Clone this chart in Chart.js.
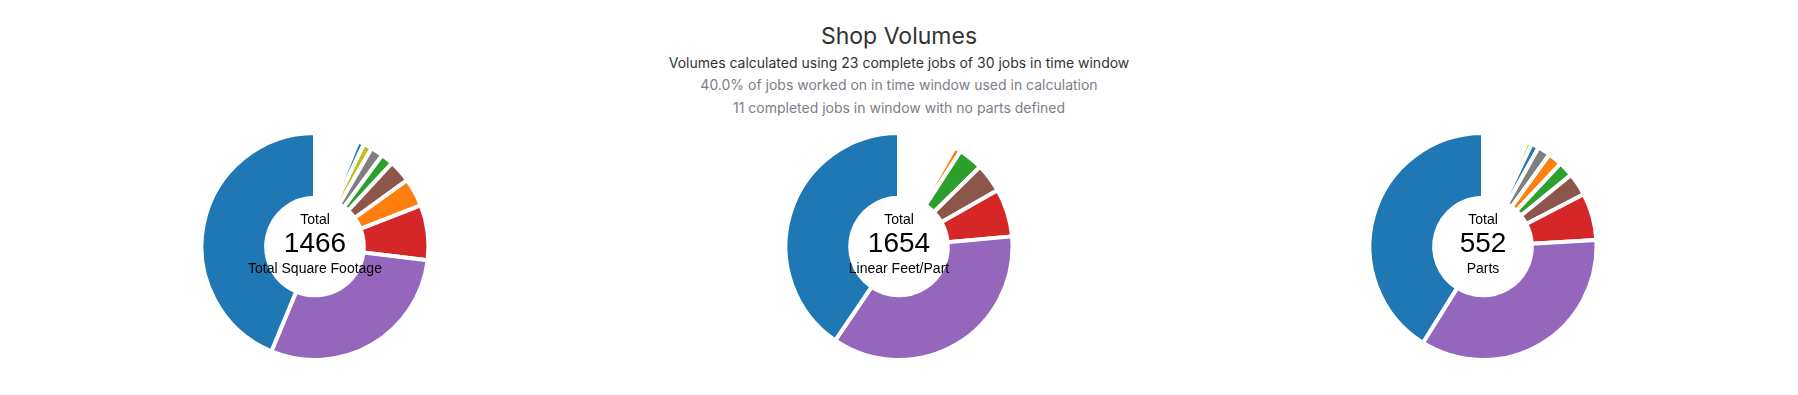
<!DOCTYPE html>
<html>
<head>
<meta charset="utf-8">
<script src="https://cdn.jsdelivr.net/npm/chart.js@4.4.1/dist/chart.umd.min.js"></script>
<style>
  html, body { margin: 0; padding: 0; background: #fff; }
  body { width: 1798px; height: 395px; position: relative; overflow: hidden; font-family: Inter, "Noto Sans", sans-serif; }
  #title { position: absolute; left: 0; width: 1798px; top: 22px; text-align: center; font-size: 23px; line-height: 29px; color: #333; }
  .sub { position: absolute; left: 0; width: 1798px; text-align: center; font-size: 14px; line-height: 20px; }
  #sub1 { top: 53px; color: #333; }
  #sub2 { top: 75px; color: #7b8087; }
  #sub3 { top: 98px; color: #7b8087; }
  .col { position: absolute; top: 131px; width: 584px; height: 231px; }
  .col canvas { position: absolute; left: 0; top: 0; }
  .center { position: absolute; left: 0; width: 584px; text-align: center; font-family: "Liberation Sans", Arial, sans-serif; color: #000; pointer-events: none; white-space: nowrap; }
  .c-top { top: 80px; font-size: 14px; line-height: 16px; }
  .c-num { top: 96px; font-size: 28px; line-height: 32px; }
  .c-lab { top: 129px; font-size: 14px; line-height: 16px; }
</style>
</head>
<body>
<div id="title">Shop Volumes</div>
<div class="sub" id="sub1">Volumes calculated using 23 complete jobs of 30 jobs in time window</div>
<div class="sub" id="sub2">40.0% of jobs worked on in time window used in calculation</div>
<div class="sub" id="sub3">11 completed jobs in window with no parts defined</div>

<div class="col" id="col0" style="left:23px"><canvas id="c0"></canvas>
  <div class="center c-top">Total</div><div class="center c-num" id="t0"></div><div class="center c-lab" id="l0"></div></div>
<div class="col" id="col1" style="left:607px"><canvas id="c1"></canvas>
  <div class="center c-top">Total</div><div class="center c-num" id="t1"></div><div class="center c-lab" id="l1"></div></div>
<div class="col" id="col2" style="left:1191px"><canvas id="c2"></canvas>
  <div class="center c-top">Total</div><div class="center c-num" id="t2"></div><div class="center c-lab" id="l2"></div></div>

<script>
// Palette (Tableau 10)
const BLUE = '#1f77b4', ORANGE = '#ff7f0e', GREEN = '#2ca02c', RED = '#d62728', PURPLE = '#9467bd',
      BROWN = '#8c564b', PINK = '#e377c2', GRAY = '#7f7f7f', OLIVE = '#bcbd22', CYAN = '#17becf';

const chartTitles = ['Total Square Footage', 'Linear Feet/Part', 'Parts'];

// Square footage per job (sorted ascending, clockwise from top)
const sqftJobs = ['J-14','J-22','J-09','J-27','J-05','J-18','J-11','J-30','J-02','J-25','J-16','J-07','J-20','J-12',
                  'J-03','J-08','J-17','J-04','J-06','J-19','J-13','J-10','J-01'];
const sqftValues = [6,6,6,6,6,6,6,7,7,7,7,7,7,7,
                    13,18,26,26,47,59,115,430,641];
const sqftColors = [PINK,CYAN,PINK,CYAN,PINK,CYAN,PINK,CYAN,PINK,CYAN,PINK,CYAN,PINK,CYAN,
                    BLUE,OLIVE,GRAY,GREEN,BROWN,ORANGE,RED,PURPLE,BLUE];

// Linear feet per part per job
const lfJobs = ['J-14','J-22','J-09','J-27','J-05','J-18','J-11','J-30','J-02','J-25','J-16','J-07','J-20','J-12','J-03','J-08',
                'J-17','J-04','J-06','J-19','J-13','J-10'];
const lfValues = [8,8,8,8,8,8,8,8,8,9,9,9,9,9,9,9,
                  16,58,68,113,594,670];
const lfColors = [PINK,CYAN,PINK,CYAN,PINK,CYAN,PINK,CYAN,PINK,CYAN,PINK,CYAN,PINK,CYAN,PINK,CYAN,
                  ORANGE,GREEN,BROWN,RED,PURPLE,BLUE];

// Parts per job
const partJobs = ['J-14','J-22','J-09','J-27','J-05','J-18','J-11','J-30','J-02','J-25','J-16','J-07','J-20',
                  'J-12','J-03','J-08','J-17','J-04','J-06','J-19','J-13','J-10'];
const partValues = [1,1,3,3,3,3,3,3,3,3,3,3,3,
                    4,6,10,11,12,18,37,192,227];
const partColors = [PINK,CYAN,PINK,CYAN,PINK,CYAN,PINK,CYAN,PINK,CYAN,PINK,CYAN,PINK,
                    OLIVE,BLUE,GRAY,ORANGE,GREEN,BROWN,RED,PURPLE,BLUE];

const sets = [
  {labels: sqftJobs, values: sqftValues, colors: sqftColors},
  {labels: lfJobs, values: lfValues, colors: lfColors},
  {labels: partJobs, values: partValues, colors: partColors}
];

sets.forEach((s, i) => {
  const total = s.values.reduce((a, b) => a + b, 0);
  document.getElementById('t' + i).textContent = total;
  document.getElementById('l' + i).textContent = chartTitles[i];
  new Chart(document.getElementById('c' + i), {
    type: 'doughnut',
    data: {
      labels: s.labels,
      datasets: [{
        label: chartTitles[i],
        data: s.values,
        backgroundColor: s.colors,
        borderColor: '#ffffff',
        borderWidth: 4
      }]
    },
    options: {
      responsive: true,
      maintainAspectRatio: false,
      animation: false,
      cutout: '43%',
      layout: { padding: 0 },
      plugins: {
        legend: { display: false },
        tooltip: { enabled: false },
        title: { display: false }
      }
    }
  });
});
</script>
</body>
</html>
